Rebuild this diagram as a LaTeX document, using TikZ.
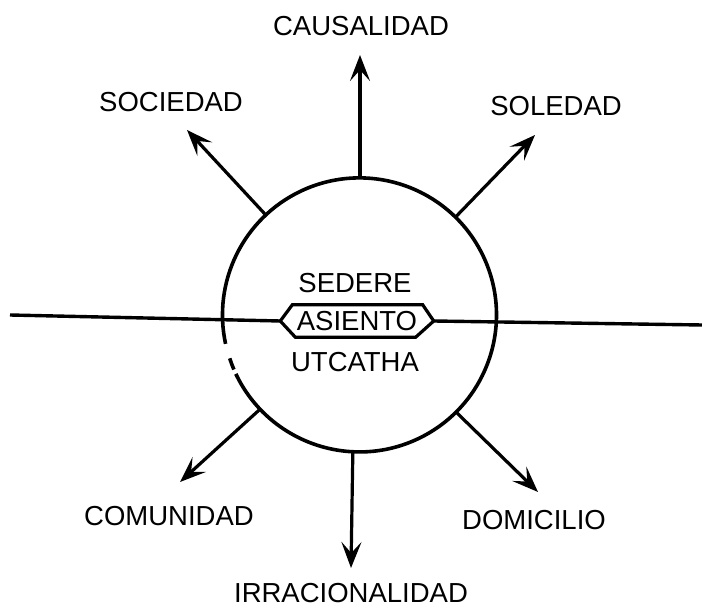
\documentclass[tikz,border=0pt]{standalone}
\usepackage{fontspec}
\setmainfont{Liberation Sans}
\usetikzlibrary{arrows.meta}
\begin{document}
\begin{tikzpicture}[x=1pt,y=1pt,
  lbl/.style={inner sep=0pt, font=\fontsize{27.5}{30}\selectfont},
  ray/.style={line width=3.2pt, -{Stealth[length=26pt,width=20pt,inset=11pt]}},
  rim/.style={line width=3.6pt},
  axis/.style={line width=3.4pt},
  hexline/.style={line width=3.2pt, line join=miter}]
\useasboundingbox (0,0) rectangle (702,608);
\fill[white] (0,0) rectangle (702,608);
% circle (anchor node)
\node[circle, draw=none, minimum size=274pt, inner sep=0pt, outer sep=0pt] (c) at (360,292) {};
\draw[rim] (c.198) arc[start angle=198, end angle=203, radius=137pt];
\draw[rim] (c.205.5) arc[start angle=205.5, end angle=552.2, radius=137pt];
% center texts
\node[lbl] (sed) at (355,325) {SEDERE};
\node[lbl, minimum width=153pt, minimum height=32pt] (as) at (357,287) {ASIENTO};
\node[lbl] (utc) at (355,246) {UTCATHA};
\draw[hexline] (as.west) -- ([xshift=12pt]as.north west) -- ([xshift=-11pt]as.north east)
  -- (as.east) -- ([xshift=-18pt]as.south east) -- ([xshift=15pt]as.south west) -- cycle;
% horizontal axis
\coordinate (hl) at (10,293);
\coordinate (hr) at (702,283);
\draw[axis] (hl) -- (as.west);
\draw[axis] (as.east) -- (hr);
% outer labels
\node[lbl] (caus) at (361,582) {CAUSALIDAD};
\node[lbl] (soc) at (171,506) {SOCIEDAD};
\node[lbl] (sol) at (556,502) {SOLEDAD};
\node[lbl] (com) at (169,92) {COMUNIDAD};
\node[lbl] (dom) at (534,88) {DOMICILIO};
\node[lbl] (irr) at (351,15) {IRRACIONALIDAD};
% arrow tips
\coordinate (tN) at (360,553);
\coordinate (tNW) at (187,478);
\coordinate (tNE) at (535,473);
\coordinate (tSW) at (180,126);
\coordinate (tSE) at (538,116);
\coordinate (tS) at (351,40);
\draw[ray] (c.90) -- (tN);
\draw[ray] (c.133) -- (tNW);
\draw[ray] (c.46) -- (tNE);
\draw[ray] (c.223) -- (tSW);
\draw[ray] (c.315) -- (tSE);
\draw[ray] (c.267) -- (tS);
\end{tikzpicture}
\end{document}
